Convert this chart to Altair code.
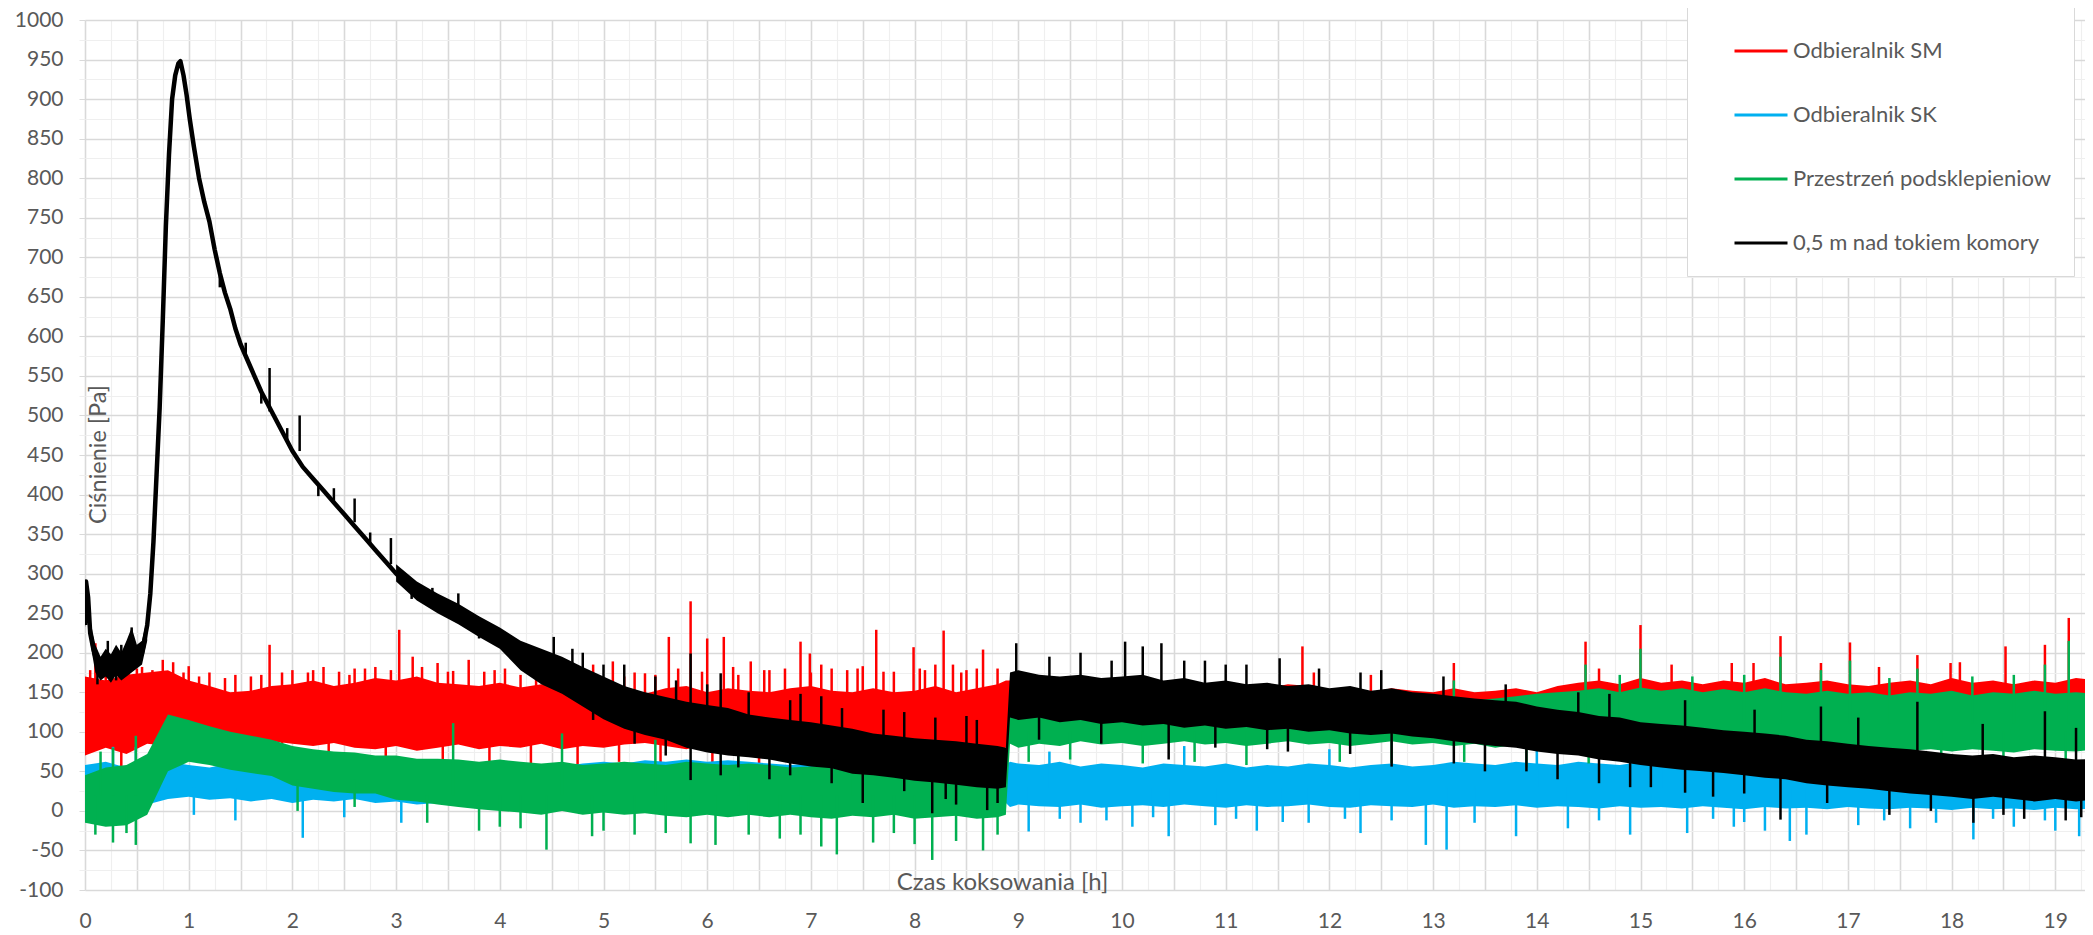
import altair as alt
import pandas as pd

# ---------------- data ----------------
SM = "Odbieralnik SM"
SK = "Odbieralnik SK"
PP = "Przestrzeń podsklepieniow"
NK = "0,5 m nad tokiem komory"
NAMES = [SM, SK, PP, NK]
COLORS = ["#FF0000", "#00B0F0", "#00B050", "#000000"]

# sampling grid of the noise envelopes [h]
T = [round(0.2 * i, 2) for i in range(45)] + [8.88, 8.92] + [round(9.0 + 0.2 * i, 2) for i in range(53)]

# envelopes (low / high) of each noisy series [Pa]
RED_LO = [70, 80, 72, 85, 82, 88, 92, 95, 90, 88, 85, 82, 86, 80, 78, 82, 76, 80, 84, 78,
          82, 80, 85, 78, 82, 80, 84, 86, 82, 78, 85, 80, 82, 84, 86, 80, 85, 82, 86, 80,
          84, 78, 82, 80, 78,
          80, 100,
          105, 100, 102, 98, 100, 104, 100, 98, 102, 100, 98, 102, 100, 98, 100, 102, 98, 100, 102, 98,
          100, 100, 102, 98, 100, 102, 100, 98, 102, 100, 98, 100, 102, 98, 100, 102, 98, 100, 102, 98,
          100, 102, 98, 100, 102, 98, 100, 102, 98, 100, 102, 98, 100]
RED_HI = [170, 165, 172, 175, 178, 165, 158, 150, 152, 158, 160, 165, 158, 162, 168, 165, 170, 162, 160, 158,
          162, 156, 160, 158, 150, 155, 152, 148, 155, 158, 150, 155, 152, 150, 155, 158, 152, 150, 155, 150,
          152, 158, 150, 155, 160,
          165, 165,
          170, 165, 160, 168, 162, 165, 160, 162, 158, 160, 155, 158, 155, 160, 158, 152, 155, 150, 155, 152,
          150, 155, 150, 152, 155, 150, 158, 162, 165, 160, 168, 162, 165, 160, 165, 162, 168, 160, 162, 165,
          160, 158, 162, 165, 160, 168, 162, 165, 160, 165, 162, 168, 165]

BLUE_LO = [15, 10, 12, 8, 15, 18, 14, 16, 12, 15, 10, 14, 12, 15, 10, 12, 8, 10, 12, 9,
           11, 8, 10, 12, 9, 11, 8, 10, 12, 9, 11, 8, 10, 12, 9, 11, 8, 10, 12, 9,
           11, 8, 10, 12, 9,
           10, 5,
           8, 6, 5, 8, 4, 6, 7, 5, 8, 6, 4, 7, 5, 6, 8, 5, 4, 7, 6, 5,
           8, 4, 6, 5, 7, 4, 6, 5, 3, 6, 4, 5, 3, 6, 4, 2, 5, 3, 4, 2,
           5, 3, 2, 4, 3, 1, 4, 2, 3, 1, 4, 2, 3]
BLUE_HI = [58, 62, 55, 60, 62, 58, 55, 60, 56, 58, 55, 60, 56, 55, 58, 55, 58, 55, 57, 55,
           58, 55, 58, 56, 60, 62, 60, 64, 62, 65, 62, 64, 62, 60, 58, 60, 62, 58, 60, 58,
           60, 58, 60, 58, 60,
           58, 62,
           60, 58, 62, 56, 60, 58, 55, 60, 58, 56, 60, 55, 58, 56, 60, 58, 55, 58, 60, 56,
           58, 62, 60, 58, 62, 60, 58, 62, 60, 58, 62, 58, 60, 56, 58, 55, 58, 56, 54, 56,
           55, 58, 54, 56, 55, 52, 56, 54, 55, 52, 56, 54, 55]

GREEN_LO = [-15, -20, -18, -5, 50, 62, 58, 52, 48, 44, 32, 28, 24, 22, 22, 14, 12,
            8, 5, 2, 0, -2, -5, 0, -5, -2, -5, -3, -6, -8, -5, -8, -5, -8, -5, -8, -10,
            -6, -8, -5, -10, -8, -6, -10, -8,
            -5, 85,
            80, 85, 82, 88, 84, 86, 82, 85, 88, 84, 86, 82, 85, 88, 84, 86, 82, 85, 88, 84,
            86, 82, 85, 80, 84, 82, 80, 84, 80, 82, 78, 82, 80, 78, 82, 80, 78, 80, 76, 80,
            78, 75, 78, 76, 78, 75, 78, 76, 74, 78, 76, 75, 78]
GREEN_HI = [45, 55, 58, 72, 122, 115, 107, 100, 95, 90, 82, 78, 75, 74, 70, 70, 66,
            66, 65, 62, 65, 62, 60, 62, 58, 60, 62, 60, 58, 62, 60, 58, 60, 58, 55, 56, 58,
            55, 58, 56, 55, 58, 55, 56, 55,
            55, 140,
            138, 135, 140, 136, 132, 138, 134, 136, 132, 135, 130, 134, 132, 136, 130, 134, 132, 135, 132, 136,
            134, 138, 140, 142, 145, 148, 150, 152, 155, 150, 156, 152, 155, 150, 154, 150, 155, 150, 148, 152,
            148, 150, 146, 150, 148, 152, 146, 150, 148, 152, 148, 150, 148]

BLACK_LO = [None] * 15 + [
            290, 266, 250, 236, 220,
            205, 178, 160, 148, 132, 116, 104, 96, 90, 80, 74, 70, 68, 65, 60, 56, 54, 47, 45, 42,
            38, 36, 33, 30, 28,
            30, 118,
            115, 118, 112, 115, 110, 112, 108, 110, 105, 108, 104, 106, 102, 104, 100, 102, 98, 96, 98, 94,
            92, 88, 85, 82, 80, 75, 72, 70, 65, 62, 58, 55, 52, 50, 48, 45, 42, 40, 35, 32,
            30, 28, 25, 22, 20, 18, 15, 18, 15, 12, 15, 12, 15]
BLACK_HI = [None] * 15 + [
            312, 290, 275, 262, 246,
            232, 215, 205, 195, 182, 170, 158, 150, 144, 138, 134, 130, 122, 118, 115, 112, 108, 104, 98, 95,
            92, 90, 88, 85, 82,
            80, 175,
            178, 172, 170, 172, 168, 170, 172, 165, 168, 162, 165, 160, 162, 158, 160, 155, 158, 152, 155, 150,
            148, 145, 142, 140, 138, 132, 128, 125, 120, 118, 112, 110, 108, 105, 102, 100, 98, 95, 90, 88,
            85, 82, 80, 78, 75, 72, 70, 72, 68, 70, 68, 65, 66]

# noisy start of the black series, before the peak
EARLY_T = [0.0, 0.02, 0.06, 0.1, 0.15, 0.2, 0.25, 0.3, 0.35, 0.4, 0.45, 0.5, 0.55, 0.6]
EARLY_LO = [232, 250, 205, 175, 165, 170, 162, 172, 165, 170, 175, 180, 185, 215]
EARLY_HI = [240, 292, 235, 210, 195, 205, 198, 210, 200, 215, 232, 210, 215, 245]

# black curve (clear line part: start, peak, decay)
BLACK_T = [0.0, 0.01, 0.03, 0.05, 0.08, 0.1, 0.15, 0.2, 0.25, 0.3, 0.35, 0.4, 0.45, 0.5, 0.55,
           0.6, 0.63, 0.66, 0.69, 0.72, 0.75, 0.78, 0.81, 0.84, 0.87, 0.9, 0.92, 0.95, 0.98,
           1.01, 1.05, 1.1, 1.15, 1.2, 1.25, 1.3, 1.35, 1.4, 1.45, 1.5, 1.6, 1.7, 1.8, 1.9,
           2.0, 2.1, 2.2, 2.3, 2.4, 2.5, 2.6, 2.7, 2.8, 2.9, 3.0, 3.1, 3.2, 3.3, 3.4, 3.5,
           3.6, 3.7, 3.8, 3.9, 4.0, 4.1, 4.2, 4.3, 4.4]
BLACK_V = [235, 290, 270, 225, 205, 195, 180, 185, 175, 192, 180, 185, 205, 190, 200,
           235, 275, 340, 425, 510, 620, 740, 830, 900, 930, 945, 948, 930, 905,
           875, 840, 800, 770, 745, 710, 680, 655, 635, 610, 590, 560, 530, 505, 480,
           455, 435, 420, 405, 390, 375, 360, 345, 330, 315, 300, 288, 278, 268, 262, 255,
           248, 240, 232, 224, 215, 205, 195, 188, 182]

# single spikes (time, base, tip)
RED_SPK_T = [0.1, 0.42, 0.75, 0.85, 1.2, 1.78, 2.3, 2.6, 3.03, 3.16, 3.4, 3.7, 4.05, 4.5, 4.9,
             5.09, 5.63, 5.72, 5.84, 6.0, 6.16, 6.25, 6.42, 6.9, 6.99, 7.1, 7.2, 7.63, 7.99, 8.2,
             8.28, 8.37, 8.66, 8.8, 11.74, 11.85, 12.4, 13.2, 14.47, 14.6, 15.0, 15.3, 15.88, 16.09,
             16.35, 16.74, 17.02, 17.3, 17.67, 17.99, 18.08, 18.52, 18.9, 19.13,
             0.3, 0.55, 0.65, 1.0, 1.45, 1.6, 2.0, 2.15, 2.45, 2.8, 2.95, 3.55, 3.85, 4.2, 4.65,
             5.3, 5.5, 6.55, 6.75, 7.35, 7.5, 7.8, 8.05, 8.5,
             0.05, 0.2, 0.5, 0.95, 1.1, 1.35, 1.7, 1.9, 2.2, 2.55, 2.7, 3.25, 3.5, 3.95, 4.35,
             4.8, 5.2, 5.4, 5.95, 6.3, 6.6, 7.0, 7.45, 7.7, 8.1, 8.45, 8.6,
             0.35, 1.15, 1.9, 2.35, 2.9, 3.45, 3.9, 4.3, 4.75, 5.15, 5.55, 6.05, 6.5, 6.95, 7.4,
             7.85, 8.25, 8.7]
RED_SPK_TIP = [212, 185, 191, 188, 175, 210, 182, 180, 229, 195, 187, 191, 180, 175, 185,
               189, 220, 180, 265, 218, 220, 182, 189, 214, 199, 185, 180, 229, 207, 185,
               228, 185, 204, 180, 208, 175, 172, 187, 214, 180, 235, 185, 187, 187,
               221, 187, 213, 182, 197, 187, 188, 208, 210, 244,
               180, 182, 178, 183, 172, 170, 178, 175, 176, 182, 178, 177, 176, 172, 178,
               175, 172, 178, 180, 178, 183, 176, 180, 178,
               178, 185, 180, 175, 170, 168, 172, 175, 178, 172, 180, 182, 176, 178, 174,
               176, 170, 174, 176, 172, 178, 175, 180, 176, 178, 175, 180,
               55, 70, 62, 58, 60, 62, 58, 60, 55, 62, 58, 60, 55, 62, 58,
               60, 55, 62]
RED_SPK_BASE = [120] * len(RED_SPK_T)

BLUE_SPK_T = [0.27, 0.49, 1.05, 1.45, 2.1, 2.5, 3.05, 9.1, 9.6, 10.1, 10.45, 10.9, 11.3, 11.8, 12.3,
              12.93, 13.13, 13.8, 14.3, 14.9, 15.45, 15.9, 16.2, 16.44, 16.6, 17.1, 17.6, 18.21, 18.6, 19.0,
              19.23, 9.3, 10.6, 12.0, 14.0, 15.2, 16.9,
              9.4, 9.85, 10.3, 11.1, 11.55, 12.15, 12.6, 13.4, 14.6, 15.7, 16.0, 17.35, 17.85, 18.4, 18.9]
BLUE_SPK_TIP = [81, 81, -5, -12, -34, -8, -15, -26, -15, -20, -32, -18, -25, -15, -28,
                -43, -49, -32, -22, -30, -28, -20, -25, -38, -30, -18, -22, -36, -20, -25,
                -32, 75, 82, 78, 76, 80, 74,
                -10, -12, -8, -10, -14, -10, -12, -15, -12, -10, -14, -12, -15, -10, -12]
BLUE_SPK_BASE = [30] * len(BLUE_SPK_T)

GREEN_SPK_T = [0.1, 0.27, 0.4, 0.49, 3.8, 4.45, 4.89, 5.3, 5.84, 6.08, 6.4, 6.7, 7.1, 7.25, 7.6,
               8.0, 8.17, 8.4, 8.66, 3.3, 4.0, 4.2, 5.0, 5.6, 6.9, 7.8, 8.8, 2.05, 2.6,
               0.27, 0.49, 3.55, 4.6, 5.5, 6.3, 7.4, 8.3, 0.15,
               9.1, 9.5, 10.2, 10.7, 11.2, 12.1, 12.6, 13.3, 13.9, 14.5, 15.1, 15.8, 16.5, 17.2, 17.9,
               18.5, 19.1,
               14.47, 15.0, 16.35, 16.74, 17.02, 17.67, 18.9, 19.13, 13.2, 14.8, 15.5, 16.0, 17.4, 18.2,
               18.6]
GREEN_SPK_BASE = [20] * 27 + [40, 40] + [20] * 9 + [100] * 17 + [110] * 15
GREEN_SPK_TIP = [-30, -40, -28, -43, -25, -49, -32, -30, -41, -43, -30, -35, -45, -55, -40,
                 -42, -62, -38, -50, -15, -20, -22, -25, -28, -30, -28, -30, 0, 5,
                 80, 95, 111, 98, 90, 92, 88, 85, 75,
                 62, 65, 60, 62, 58, 62, 60, 62, 55, 60, 58, 55, 55, 52, 55,
                 50, 52,
                 185, 205, 195, 178, 190, 180, 185, 215, 165, 172, 170, 172, 168, 170,
                 172]

BLACK_SPK_T = [0.22, 0.35, 0.45, 1.78, 2.07, 2.6, 2.95, 3.6, 4.52, 5.84, 6.13, 6.9, 7.1, 8.98, 9.6,
               10.03, 10.2, 10.38, 10.6, 11.52, 11.2, 12.3, 15.43, 16.74, 17.67, 18.9, 5.2, 4.8, 7.7, 8.5,
               0.12, 0.3, 5.84, 6.13, 7.5, 8.17, 8.7, 8.4, 10.45, 12.6, 15.43, 15.7, 16.35, 17.4, 18.21,
               18.7, 19.1, 6.6, 11.6, 13.5, 14.2, 14.9,
               1.3, 1.55, 1.7, 1.95, 2.25, 2.4, 2.75, 3.15, 3.35, 3.8, 4.1, 4.3,
               4.7, 5.0, 5.5, 5.7, 6.0, 6.4, 6.8, 7.3, 7.9, 8.2, 8.6,
               4.9, 5.3, 5.6, 6.3, 6.8, 7.2, 7.9, 8.3, 8.8,
               9.3, 9.9, 10.8, 11.0, 11.9, 12.5, 13.1, 13.7, 14.4, 14.7, 16.1, 17.1, 18.3, 19.2,
               9.2, 9.8, 10.9, 11.4, 12.2, 13.2, 13.9, 14.6, 15.1, 16.0, 16.8, 17.8, 18.5, 19.25]
BLACK_SPK_BASE = [185, 180, 200, 505, 455, 365, 312, 248, 180, 110, 100, 90, 90, 150, 150,
                  140, 140, 140, 140, 130, 130, 130, 90, 60, 50, 45, 130, 160, 70, 60,
                  180, 190, 100, 100, 70, 60, 55, 55, 130, 120, 70, 70, 60, 40, 40,
                  40, 40, 80, 120, 100, 90, 80,
                  680, 575, 530, 468, 412, 390, 338, 283, 265, 232, 205, 188,
                  170, 140, 120, 110, 100, 95, 88, 80, 70, 65, 60,
                  150, 120, 110, 95, 85, 80, 70, 60, 55,
                  150, 150, 140, 140, 130, 130, 120, 110, 100, 100, 80, 70, 60, 55,
                  130, 130, 120, 120, 115, 100, 95, 80, 75, 65, 55, 45, 40, 40]
BLACK_SPK_TIP = [215, 210, 232, 560, 500, 395, 345, 275, 220, 199, 174, 148, 145, 212, 200,
                 214, 208, 212, 190, 193, 185, 175, 140, 132, 138, 126, 185, 200, 128, 120,
                 160, 165, 39, 45, 10, -3, 1, 8, 65, 56, 23, 18, -11, -5, -15,
                 -10, -12, 40, 75, 50, 40, 30,
                 662, 592, 515, 484, 398, 408, 352, 268, 282, 218, 222, 172,
                 205, 185, 170, 165, 160, 150, 140, 130, 125, 118, 115,
                 115, 85, 70, 55, 45, 35, 25, 15, 10,
                 195, 190, 190, 185, 180, 178, 170, 160, 150, 148, 128, 118, 110, 105,
                 90, 85, 80, 78, 72, 60, 50, 35, 30, 22, 10, 0, -5, -8]

X_TICKS = [i * 0.25 for i in range(78)]
Y_TICKS = list(range(-100, 1001, 25))

# ---------------- tables ----------------
band_rows = []
for name, ts, lo, hi in [(SM, T, RED_LO, RED_HI), (SK, T, BLUE_LO, BLUE_HI),
                         (PP, T, GREEN_LO, GREEN_HI), (NK, T, BLACK_LO, BLACK_HI),
                         (NK, EARLY_T, EARLY_LO, EARLY_HI)]:
    part = "early" if ts is EARLY_T else "main"
    for t, a, b in zip(ts, lo, hi):
        if a is not None:
            band_rows.append({"series": name, "part": part, "t": t, "lo": a, "hi": b})
bands = pd.DataFrame(band_rows)

spk_rows = []
for name, ts, bs, ps in [(SM, RED_SPK_T, RED_SPK_BASE, RED_SPK_TIP),
                         (SK, BLUE_SPK_T, BLUE_SPK_BASE, BLUE_SPK_TIP),
                         (PP, GREEN_SPK_T, GREEN_SPK_BASE, GREEN_SPK_TIP),
                         (NK, BLACK_SPK_T, BLACK_SPK_BASE, BLACK_SPK_TIP)]:
    for t, b, p in zip(ts, bs, ps):
        spk_rows.append({"series": name, "t": t, "base": b, "tip": p})
spikes = pd.DataFrame(spk_rows)

line_df = pd.DataFrame({"series": NK, "t": BLACK_T, "v": BLACK_V})

# ---------------- scales & axes ----------------
PX_PER_H = 103.7
W = 2000
H = 870
XMAX = W / PX_PER_H
TXT = "#595959"
FONT = "Lato"

xs = alt.Scale(domain=[0, XMAX], nice=False, zero=False)
ys = alt.Scale(domain=[-100, 1000], nice=False, zero=False)

xa = alt.Axis(values=X_TICKS,
              labelExpr="datum.value % 1 === 0 ? '' + datum.value : ''",
              labelOverlap=False, labelFlush=False,
              labelFont=FONT, labelFontSize=21, labelColor=TXT, labelPadding=20,
              ticks=False, domain=False,
              grid=True,
              gridColor={"condition": {"test": "datum.value % 0.5 === 0", "value": "#d9d9d9"}, "value": "#efefef"},
              gridWidth={"condition": {"test": "datum.value % 0.5 === 0", "value": 1.6}, "value": 1.2},
              title="Czas koksowania [h]", titleFont=FONT, titleFontSize=24, titleFontWeight="normal",
              titleColor=TXT, titleX=917, titleY=-1, titleAlign="center", titleBaseline="alphabetic")

ya = alt.Axis(values=Y_TICKS,
              labelExpr="datum.value % 50 === 0 ? '' + datum.value : ''",
              labelOverlap=False, labelFlush=False,
              labelFont=FONT, labelFontSize=21, labelColor=TXT, labelPadding=16,
              ticks=True, tickSize=6,
              tickColor={"condition": {"test": "datum.value % 50 === 0", "value": "#d9d9d9"}, "value": "#efefef"},
              domain=False,
              grid=True,
              gridColor={"condition": {"test": "datum.value % 50 === 0", "value": "#d9d9d9"}, "value": "#efefef"},
              gridWidth={"condition": {"test": "datum.value % 50 === 0", "value": 1.6}, "value": 1.2},
              title="Ciśnienie [Pa]", titleFont=FONT, titleFontSize=23.5, titleFontWeight="normal",
              titleColor=TXT, titleX=13, titleY=434, titleAngle=270, titleAlign="center",
              titleBaseline="middle")


def X(f):
    return alt.X(f, type="quantitative", scale=xs, axis=xa)


def Y(f):
    return alt.Y(f, type="quantitative", scale=ys, axis=ya)


layers = []
for name, col in zip(NAMES, COLORS):
    layers.append(
        alt.Chart(bands).transform_filter((alt.datum.series == name) & (alt.datum.part == "main"))
        .mark_area(color=col, opacity=1, clip=True, interpolate="linear")
        .encode(x=X("t"), y=Y("lo"), y2="hi")
    )
    layers.append(
        alt.Chart(spikes).transform_filter(alt.datum.series == name)
        .mark_rule(color=col, strokeWidth=2.5, clip=True)
        .encode(x=X("t"), y=Y("base"), y2="tip")
    )

layers.append(
    alt.Chart(bands).transform_filter(alt.datum.part == "early")
    .mark_area(color="#000000", opacity=1, clip=True, interpolate="linear")
    .encode(x=X("t"), y=Y("lo"), y2="hi")
)

legend = alt.Legend(orient="none", legendX=1602, legendY=-19, title=None,
                    symbolType="stroke", symbolSize=2809, symbolStrokeWidth=3,
                    labelFont=FONT, labelFontSize=22, labelColor=TXT, labelLimit=500,
                    padding=22, rowPadding=25, symbolOffset=24, labelOffset=4,
                    fillColor="white", strokeColor="#d9d9d9")

layers.append(
    alt.Chart(line_df).mark_line(strokeWidth=4.5, clip=True, strokeJoin="round")
    .encode(x=X("t"), y=Y("v"),
            color=alt.Color("series:N", scale=alt.Scale(domain=NAMES, range=COLORS), legend=legend))
)

chart = alt.layer(*layers).properties(
    width=W, height=H,
    autosize=alt.AutoSizeParams(type="none"),
    padding={"left": 77, "top": 12, "right": 0, "bottom": 47},
    background="white",
).configure_view(stroke=None)

chart.save("out.html", embed_options={"renderer": "svg", "actions": False})
